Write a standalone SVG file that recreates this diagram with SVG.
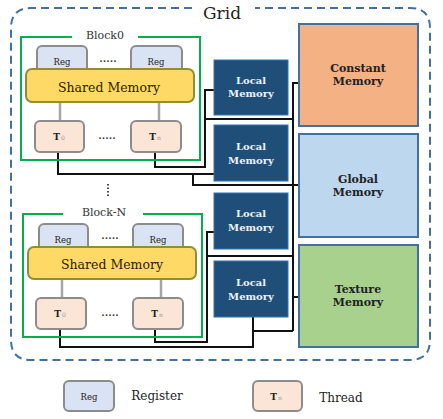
<svg xmlns="http://www.w3.org/2000/svg" width="443" height="419" viewBox="0 0 443 419">
<style>
text{font-family:"DejaVu Serif","Liberation Serif",serif;text-anchor:middle;dominant-baseline:central}
.grid{fill:none;stroke:#41719c;stroke-width:2;stroke-dasharray:8,5}
.block{fill:none;stroke:#00b050;stroke-width:2}
.blab{font-size:11px;fill:#333}
.reg{fill:#dae3f3;stroke:#8c8c8c;stroke-width:2}
.thr{fill:#fbe5d6;stroke:#8c8c8c;stroke-width:2}
.sm{fill:#ffd966;stroke:#8f8f3a;stroke-width:2}
.smt{font-size:12.5px;fill:#2a2200}
.rt{font-size:8.5px;fill:#222}
.tt{font-size:9px;font-weight:bold;fill:#222}
.sub{font-size:6px;font-weight:normal;fill:#999}
.dots{font-size:10px;fill:#333;font-weight:bold}
.lm{fill:#1f4e79;stroke:#2e75b6;stroke-width:1}
.lmt{font-size:10px;font-weight:bold;fill:#eef3f9}
.mem{stroke:#41719c;stroke-width:2}
.memt{font-size:11px;font-weight:bold;fill:#222}
.gl{stroke:#a6a6a6;stroke-width:2.5}
.bl{fill:none;stroke:#111;stroke-width:2}
.lt{font-size:12px;fill:#222}
</style>

<g id="grid">
<path class="grid" d="M192,8 H31 Q11,8 11,28 V340 Q11,360 31,360 H410 Q430,360 430,340 V28 Q430,8 410,8 H255"/>
<text x="222" y="13" style="font-size:17px;fill:#222">Grid</text>
</g>

<g id="connectors">
<line class="gl" x1="60" y1="102" x2="60" y2="122"/>
<line class="gl" x1="159" y1="102" x2="159" y2="122"/>
<line class="gl" x1="62" y1="279" x2="62" y2="298"/>
<line class="gl" x1="161" y1="279" x2="161" y2="298"/>
<polyline class="bl" points="58,152 58,174 214,174"/>
<polyline class="bl" points="193,174 193,185 299,185"/>
<polyline class="bl" points="155,152 155,167 205,167 205,90 214,90"/>
<polyline class="bl" points="205,119 293,119"/>
<polyline class="bl" points="299,83 293,83 293,331"/>
<polyline class="bl" points="293,297 299,297"/>
<polyline class="bl" points="60,329 60,347 253,347 253,317"/>
<polyline class="bl" points="253,331 293,331"/>
<polyline class="bl" points="155,329 155,342 207,342 207,232 214,232"/>
<polyline class="bl" points="207,256 293,256"/>
</g>

<g id="block0">
<path class="block" d="M72,37 H21 V160 H200 V37 H138"/>
<text class="blab" x="105" y="35">Block0</text>
<rect class="reg" x="37" y="46" width="50" height="30" rx="5"/>
<rect class="reg" x="131" y="46" width="51" height="30" rx="5"/>
<text class="rt" x="62" y="62">Reg</text>
<text class="rt" x="156" y="62">Reg</text>
<text class="dots" x="108" y="58">.....</text>
<rect class="sm" x="26" y="69" width="168" height="33" rx="6"/>
<text class="smt" x="109" y="87">Shared Memory</text>
<rect class="thr" x="35" y="121" width="49" height="31" rx="5"/>
<rect class="thr" x="131" y="121" width="50" height="31" rx="5"/>
<text class="tt" x="59" y="137">T<tspan class="sub" dx="1">0</tspan></text>
<text class="tt" x="155" y="137">T<tspan class="sub" dx="1">n</tspan></text>
<text class="dots" x="107" y="135">.....</text>
</g>

<line x1="108" y1="184" x2="108" y2="197" stroke="#333" stroke-width="1.8" stroke-dasharray="1.5,2"/>

<g id="blockN">
<path class="block" d="M63,214 H23 V337 H202 V214 H143"/>
<text class="blab" x="104" y="212">Block-N</text>
<rect class="reg" x="39" y="224" width="49" height="30" rx="5"/>
<rect class="reg" x="133" y="224" width="50" height="30" rx="5"/>
<text class="rt" x="63" y="240">Reg</text>
<text class="rt" x="158" y="240">Reg</text>
<text class="dots" x="110" y="235">.....</text>
<rect class="sm" x="28" y="247" width="168" height="32" rx="6"/>
<text class="smt" x="112" y="264">Shared Memory</text>
<rect class="thr" x="36" y="298" width="50" height="31" rx="5"/>
<rect class="thr" x="133" y="298" width="50" height="31" rx="5"/>
<text class="tt" x="60" y="314">T<tspan class="sub" dx="1">0</tspan></text>
<text class="tt" x="157" y="314">T<tspan class="sub" dx="1">n</tspan></text>
<text class="dots" x="110" y="312">.....</text>
</g>

<g id="local1"><rect class="lm" x="214" y="60" width="74" height="55"/><text class="lmt" x="251" y="80">Local</text><text class="lmt" x="251" y="93">Memory</text></g>
<g id="local2"><rect class="lm" x="214" y="125" width="74" height="56"/><text class="lmt" x="251" y="146">Local</text><text class="lmt" x="251" y="160">Memory</text></g>
<g id="local3"><rect class="lm" x="214" y="193" width="74" height="56"/><text class="lmt" x="251" y="213">Local</text><text class="lmt" x="251" y="227">Memory</text></g>
<g id="local4"><rect class="lm" x="214" y="261" width="74" height="56"/><text class="lmt" x="251" y="282">Local</text><text class="lmt" x="251" y="296">Memory</text></g>

<g id="constant"><rect class="mem" x="299" y="24" width="119" height="102" fill="#f4b183"/><text class="memt" x="358" y="68">Constant</text><text class="memt" x="358" y="81">Memory</text></g>
<g id="global"><rect class="mem" x="299" y="134" width="119" height="103" fill="#bdd7ee"/><text class="memt" x="358" y="179">Global</text><text class="memt" x="358" y="192">Memory</text></g>
<g id="texture"><rect class="mem" x="299" y="245" width="119" height="102" fill="#a9d18e"/><text class="memt" x="358" y="289">Texture</text><text class="memt" x="358" y="302">Memory</text></g>

<g id="legend-reg"><rect class="reg" x="64" y="381" width="50" height="30" rx="5"/><text class="rt" x="89" y="397">Reg</text><text class="lt" x="157" y="396">Register</text></g>
<g id="legend-thread"><rect class="thr" x="253" y="381" width="49" height="30" rx="5"/><text class="tt" x="276" y="397">T<tspan class="sub" dx="1">n</tspan></text><text class="lt" x="341" y="398">Thread</text></g>
</svg>
